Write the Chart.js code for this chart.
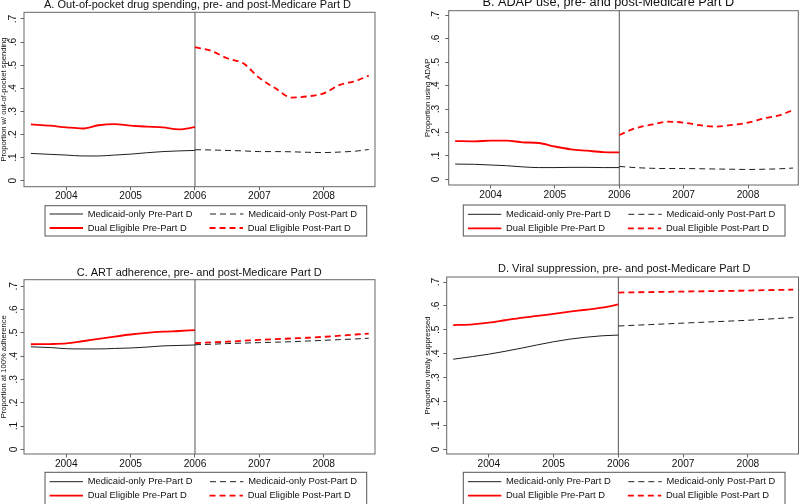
<!DOCTYPE html>
<html>
<head>
<meta charset="utf-8">
<script src="https://cdn.jsdelivr.net/npm/chart.js@4/dist/chart.umd.min.js"></script>
<style>
html, body { margin: 0; padding: 0; background: #fff; }
#wrap { position: relative; width: 800px; height: 504px; overflow: hidden; background: #fff; }
#wrap canvas { position: absolute; }
</style>
</head>
<body>
<div id="wrap">
  <canvas id="panelA"></canvas>
  <canvas id="panelB"></canvas>
  <canvas id="panelC"></canvas>
  <canvas id="panelD"></canvas>
</div>
<script>
// ---------------- data ----------------
const preYears  = [2003.45, 2003.75, 2004.0, 2004.25, 2004.5, 2004.75, 2005.0, 2005.25, 2005.5, 2005.75, 2006.0];
const postYears = [2006.0, 2006.25, 2006.5, 2006.75, 2007.0, 2007.25, 2007.5, 2007.75, 2008.0, 2008.25, 2008.5, 2008.7];
const xTickYears = [2004, 2005, 2006, 2007, 2008];
const yTickValues = [0, 0.1, 0.2, 0.3, 0.4, 0.5, 0.6, 0.7];
const partDYear = [2006];

const legendLabels = ['Medicaid-only Pre-Part D', 'Medicaid-only Post-Part D', 'Dual Eligible Pre-Part D', 'Dual Eligible Post-Part D'];
const panelTitles = [
  'A. Out-of-pocket drug spending, pre- and post-Medicare Part D',
  'B. ADAP use, pre- and post-Medicare Part D',
  'C. ART adherence, pre- and post-Medicare Part D',
  'D. Viral suppression, pre- and post-Medicare Part D'
];
const yAxisTitles = ['Proportion w/ out-of-pocket spending', 'Proportion using ADAP', 'Proportion at 100% adherence', 'Proportion virally suppressed'];

// A. out-of-pocket spending
const oopMedicaidPre  = [0.118, 0.114, 0.111, 0.107, 0.107, 0.111, 0.115, 0.121, 0.126, 0.129, 0.131];
const oopDualPre      = [0.244, 0.238, 0.231, 0.226, 0.240, 0.245, 0.238, 0.234, 0.231, 0.222, 0.232];
const oopMedicaidPost = [0.134, 0.133, 0.131, 0.129, 0.126, 0.126, 0.125, 0.123, 0.122, 0.124, 0.128, 0.135];
const oopDualPost     = [0.578, 0.562, 0.530, 0.508, 0.445, 0.400, 0.360, 0.365, 0.378, 0.415, 0.432, 0.455];
// B. ADAP use
const adapMedicaidPre  = [0.065, 0.064, 0.061, 0.058, 0.053, 0.050, 0.050, 0.051, 0.051, 0.050, 0.050];
const adapDualPre      = [0.163, 0.162, 0.165, 0.165, 0.158, 0.155, 0.140, 0.128, 0.122, 0.116, 0.115];
const adapMedicaidPost = [0.055, 0.050, 0.047, 0.046, 0.046, 0.045, 0.044, 0.043, 0.042, 0.043, 0.045, 0.048];
const adapDualPost     = [0.189, 0.218, 0.233, 0.246, 0.242, 0.231, 0.225, 0.232, 0.242, 0.260, 0.274, 0.296];
// C. ART adherence
const artMedicaidPre  = [0.440, 0.437, 0.432, 0.431, 0.431, 0.433, 0.435, 0.439, 0.444, 0.446, 0.448];
const artDualPre      = [0.451, 0.452, 0.455, 0.464, 0.474, 0.484, 0.493, 0.500, 0.505, 0.508, 0.512];
const artMedicaidPost = [0.449, 0.451, 0.454, 0.456, 0.458, 0.460, 0.462, 0.465, 0.468, 0.471, 0.474, 0.477];
const artDualPost     = [0.456, 0.459, 0.462, 0.466, 0.470, 0.473, 0.476, 0.479, 0.483, 0.488, 0.493, 0.497];
// D. viral suppression
const viralMedicaidPre  = [0.377, 0.388, 0.398, 0.410, 0.423, 0.437, 0.450, 0.461, 0.469, 0.475, 0.478];
const viralDualPre      = [0.520, 0.523, 0.530, 0.540, 0.550, 0.558, 0.567, 0.576, 0.584, 0.593, 0.606];
const viralMedicaidPost = [0.516, 0.519, 0.522, 0.525, 0.528, 0.531, 0.534, 0.537, 0.540, 0.544, 0.548, 0.551];
const viralDualPost     = [0.656, 0.657, 0.658, 0.659, 0.660, 0.661, 0.662, 0.663, 0.664, 0.666, 0.667, 0.668];

// ---------------- styling / layout ----------------
const FONT = '"Liberation Sans", Arial, Helvetica, sans-serif';
Chart.defaults.font.family = FONT;
const TXT = '#111111';
const FRAME = '#666666';
const BLACK = '#1e1e1e';
const RED = '#ff0000';
const LEG_FONT = 9.4, LEG_PAD = 4.6, LEG_BOXW = 33.4, LEG_COL2 = 165;
const TITLE_LH = 9;

// geometry of each panel, in canvas coordinates
const geo = {
  A: { left: 0,   top: 0,   w: 400, h: 252, padL: 0.5,  yw: 23.5, ytp: 2.75, padR: 25,  T: 12.3, B: 186.7, xtp: 0.0,
       ymin: -0.026, ymax: 0.729, xmin: 2003.343, xmax: 2008.797, tcx: 197.5, tcy: 5.3, ts: 11,
       lx0: 45, lx1: 366.7, ly0: 205.7, ly1: 236, row1: 214.0 },
  B: { left: 400, top: 0,   w: 400, h: 252, padL: 24.5, yw: 24.2, ytp: 4.95, padR: 1.7, T: 10.7, B: 185.0, xtp: 0.4,
       ymin: -0.0243, ymax: 0.7196, xmin: 2003.35, xmax: 2008.781, tcx: 208.3, tcy: 2.9, ts: 12.7,
       lx0: 63.3, lx1: 385, ly0: 205, ly1: 236, row1: 214.3 },
  C: { left: 0,   top: 252, w: 400, h: 264, padL: 0.5,  yw: 23.5, ytp: 2.25, padR: 25,  T: 27.7, B: 202.0, xtp: 0.4,
       ymin: -0.0202, ymax: 0.7283, xmin: 2003.343, xmax: 2008.797, tcx: 199.2, tcy: 21.0, ts: 11,
       lx0: 45, lx1: 366.7, ly0: 220.3, ly1: 253.5, row1: 229.7 },
  D: { left: 400, top: 252, w: 400, h: 264, padL: 24.5, yw: 22.2, ytp: 2.95, padR: 1.5, T: 25.0, B: 202.0, xtp: 0.4,
       ymin: -0.0197, ymax: 0.721, xmin: 2003.35, xmax: 2008.781, tcx: 224.2, tcy: 17.3, ts: 11,
       lx0: 63.3, lx1: 385, ly0: 220.3, ly1: 253.5, row1: 229.7 }
};

function pts(xs, ys) { return xs.map((x, i) => ({ x: x, y: ys[i] })); }
function yFmt(v) { return v === 0 ? '0' : Number(v).toFixed(1).replace(/^0\./, '.'); }

const panelPlugin = {
  id: 'panelDecor',
  afterLayout(chart) {
    const g = chart.$geo;
    const tb = chart.titleBlock;
    if (tb) {
      tb.left = g.tcx - 200; tb.right = g.tcx + 200; tb.width = 400;
      tb.top = g.tcy - TITLE_LH / 2; tb.bottom = tb.top + TITLE_LH; tb.height = TITLE_LH;
    }
    const lg = chart.legend;
    if (lg) {
      const top = g.row1 - LEG_PAD - LEG_FONT / 2;
      lg.left = g.lx0; lg.right = g.lx1 + 20; lg.width = lg.right - lg.left;
      lg.top = top; lg.bottom = top + 40; lg.height = 40;
    }
  },
  beforeDatasetsDraw(chart) {
    const ctx = chart.ctx, a = chart.chartArea;
    const x = chart.scales.x.getPixelForValue(partDYear[0]);
    ctx.save();
    ctx.strokeStyle = '#555555';
    ctx.lineWidth = 1;
    ctx.beginPath();
    ctx.moveTo(x, a.top);
    ctx.lineTo(x, a.bottom);
    ctx.stroke();
    ctx.restore();
  },
  afterDraw(chart) {
    const g = chart.$geo, ctx = chart.ctx, a = chart.chartArea;
    ctx.save();
    ctx.strokeStyle = FRAME;
    ctx.lineWidth = 1;
    ctx.strokeRect(a.left, a.top, a.right - a.left, a.bottom - a.top);
    ctx.strokeStyle = '#555555';
    ctx.strokeRect(g.lx0, g.ly0, g.lx1 - g.lx0, g.ly1 - g.ly0);
    ctx.restore();
  }
};

Chart.register({
  id: 'geoAttach',
  beforeInit(chart) {
    chart.$geo = geo[chart.canvas.id.replace('panel', '')];
  }
});

function makePanel(id, key, idx, mPre, mPost, dPre, dPost) {
  const g = geo[key];
  const cv = document.getElementById(id);
  cv.width = g.w; cv.height = g.h;
  cv.style.left = g.left + 'px'; cv.style.top = g.top + 'px';
  cv.style.width = g.w + 'px'; cv.style.height = g.h + 'px';
  const xh = g.h - g.B - 38;
  return new Chart(cv, {
    type: 'line',
    data: {
      datasets: [
        { label: legendLabels[0], data: pts(preYears, mPre), borderColor: BLACK, backgroundColor: BLACK, borderWidth: 1 },
        { label: legendLabels[1], data: pts(postYears, mPost), borderColor: BLACK, backgroundColor: BLACK, borderWidth: 1, borderDash: [6, 4] },
        { label: legendLabels[2], data: pts(preYears, dPre), borderColor: RED, backgroundColor: RED, borderWidth: 1.8 },
        { label: legendLabels[3], data: pts(postYears, dPost), borderColor: RED, backgroundColor: RED, borderWidth: 1.8, borderDash: [6, 4] }
      ]
    },
    options: {
      responsive: false,
      animation: false,
      devicePixelRatio: 1,
      events: [],
      layout: { padding: { left: g.padL, right: g.padR, top: 0, bottom: 0 } },
      elements: {
        point: { radius: 0 },
        line: { cubicInterpolationMode: 'monotone', fill: false }
      },
      scales: {
        x: {
          type: 'linear', min: g.xmin, max: g.xmax,
          afterBuildTicks: s => { s.ticks = xTickYears.map(v => ({ value: v })); },
          afterFit: s => { s.height = xh; s.paddingLeft = 0; s.paddingRight = 0; },
          ticks: { minRotation: 0, maxRotation: 0, padding: g.xtp, color: TXT, font: { size: 10.2, family: FONT },
                   callback: v => String(v) },
          grid: { drawOnChartArea: false, drawTicks: true, tickLength: 3.5, color: FRAME, lineWidth: 1 },
          border: { display: false }
        },
        y: {
          min: g.ymin, max: g.ymax,
          afterBuildTicks: s => { s.ticks = yTickValues.map(v => ({ value: v })); },
          afterFit: s => { s.width = g.yw; s.paddingTop = 0; s.paddingBottom = 0; },
          ticks: { minRotation: 90, maxRotation: 90, crossAlign: 'center', padding: g.ytp, color: TXT,
                   font: { size: 10.2, family: FONT }, callback: v => yFmt(v) },
          grid: { drawOnChartArea: false, drawTicks: true, tickLength: 3.5, color: FRAME, lineWidth: 1 },
          border: { display: false },
          title: { display: true, text: yAxisTitles[idx], color: TXT, font: { size: 7.6, family: FONT, lineHeight: 1 },
                   padding: { top: 0, bottom: 0 } }
        }
      },
      plugins: {
        tooltip: { enabled: false },
        title: {
          display: true, text: panelTitles[idx], color: TXT,
          font: { size: g.ts, family: FONT, weight: 'normal', lineHeight: TITLE_LH + 'px' },
          padding: { top: 0, bottom: g.T - TITLE_LH }
        },
        legend: {
          display: true, position: 'bottom', align: 'start',
          labels: {
            color: TXT, font: { size: LEG_FONT, family: FONT }, padding: LEG_PAD,
            usePointStyle: true, pointStyle: 'line', pointStyleWidth: LEG_BOXW,
            generateLabels: (ch) => {
              const items = Chart.defaults.plugins.legend.labels.generateLabels(ch);
              const ctx = ch.ctx;
              ctx.save();
              ctx.font = 'normal ' + LEG_FONT + 'px ' + FONT;
              const target = LEG_COL2 - 2 * LEG_PAD - LEG_BOXW - LEG_FONT / 2;
              items.forEach((it, i) => {
                const ds = ch.data.datasets[it.datasetIndex];
                it.lineDash = ds.borderDash || [];
                it.lineWidth = ds.borderWidth;
                it.strokeStyle = ds.borderColor;
                it.lineCap = 'butt';
                if (i % 2 === 0) {
                  let t = it.text;
                  while (ctx.measureText(t + ' ').width <= target + 1.2) { t += ' '; }
                  it.text = t;
                }
              });
              ctx.restore();
              return items;
            }
          }
        }
      }
    },
    plugins: [panelPlugin]
  });
}

makePanel('panelA', 'A', 0, oopMedicaidPre, oopMedicaidPost, oopDualPre, oopDualPost);
makePanel('panelB', 'B', 1, adapMedicaidPre, adapMedicaidPost, adapDualPre, adapDualPost);
makePanel('panelC', 'C', 2, artMedicaidPre, artMedicaidPost, artDualPre, artDualPost);
makePanel('panelD', 'D', 3, viralMedicaidPre, viralMedicaidPost, viralDualPre, viralDualPost);
</script>
</body>
</html>
